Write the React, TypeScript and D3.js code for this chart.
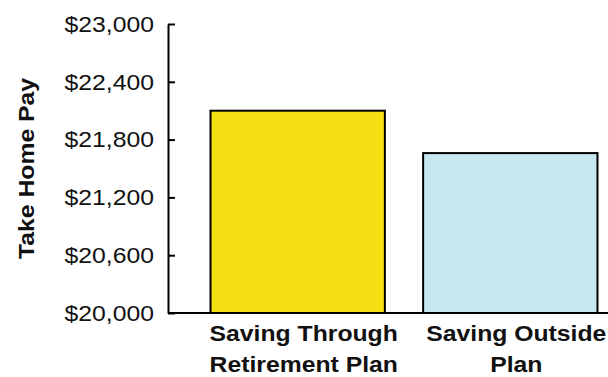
import React, { useRef, useEffect } from "react";
import * as d3 from "d3";

// chart data
const categories = [
  ["Saving Through", "Retirement Plan"],
  ["Saving Outside", "Plan"],
];
const takeHomePay = [22100, 21660];
const barColors = ["#f5e014", "#c6e9f1"];
const yTicks = [20000, 20600, 21200, 21800, 22400, 23000];

const WIDTH = 608;
const HEIGHT = 377;

const TakeHomeChart = () => {
  const ref = useRef<SVGSVGElement | null>(null);

  useEffect(() => {
    if (!ref.current) return;
    const svg = d3.select(ref.current);
    svg.selectAll("*").remove();

    const font = "'Liberation Sans', Arial, Helvetica, sans-serif";
    const fontSize = "22.5px";
    const stretch = "scale(1.1,1)"; // the source font is a bit wider than Arial
    const left = 168;
    const top = 24;
    const bottom = 313;

    const y = d3.scaleLinear().domain([20000, 23000]).range([bottom, top]);
    const x = d3
      .scaleBand<number>()
      .domain(d3.range(categories.length))
      .range([left, 640])
      .paddingInner(0.18)
      .paddingOuter(0.2);

    // bars
    svg
      .append("g")
      .selectAll("rect")
      .data(takeHomePay)
      .enter()
      .append("rect")
      .attr("x", (_d, i) => x(i)!)
      .attr("y", (d) => y(d))
      .attr("width", x.bandwidth())
      .attr("height", (d) => bottom - y(d))
      .attr("fill", (_d, i) => barColors[i])
      .attr("stroke", "#000")
      .attr("stroke-width", 2);

    // y axis, ticks pointing inward
    const yAxis = svg
      .append("g")
      .attr("transform", `translate(${left},0)`)
      .call(
        d3
          .axisLeft(y)
          .tickValues(yTicks)
          .tickSizeInner(-7)
          .tickSizeOuter(0)
          .tickFormat((d) => "$" + d3.format(",")(d as number))
      );
    yAxis.select(".domain").attr("stroke", "#000").attr("stroke-width", 2);
    yAxis.selectAll(".tick line").attr("stroke", "#000").attr("stroke-width", 2);
    yAxis
      .selectAll(".tick text")
      .attr("x", 0)
      .attr("transform", `translate(-14,0) ${stretch}`)
      .attr("fill", "#111")
      .style("font-family", font)
      .style("font-size", fontSize);

    // x axis line
    svg
      .append("line")
      .attr("x1", left)
      .attr("x2", x.range()[1])
      .attr("y1", bottom)
      .attr("y2", bottom)
      .attr("stroke", "#000")
      .attr("stroke-width", 2);

    // category labels
    const labels = svg
      .append("g")
      .selectAll("text")
      .data(categories)
      .enter()
      .append("text")
      .attr(
        "transform",
        (_d, i) => `translate(${x(i)! + x.bandwidth() / 2 + 6},341) ${stretch}`
      )
      .attr("text-anchor", "middle")
      .attr("fill", "#111")
      .style("font-family", font)
      .style("font-size", fontSize)
      .style("font-weight", "bold");
    labels
      .selectAll("tspan")
      .data((d) => d)
      .enter()
      .append("tspan")
      .attr("x", 0)
      .attr("y", (_d, j) => j * 31)
      .text((d) => d);

    // y title
    svg
      .append("text")
      .attr("transform", `translate(34,${(top + bottom) / 2}) rotate(-90) ${stretch}`)
      .attr("text-anchor", "middle")
      .attr("fill", "#111")
      .style("font-family", font)
      .style("font-size", fontSize)
      .style("font-weight", "bold")
      .text("Take Home Pay");
  }, []);

  return (
    <svg
      ref={ref}
      width={WIDTH}
      height={HEIGHT}
      viewBox={`0 0 ${WIDTH} ${HEIGHT}`}
      style={{ display: "block", background: "#fff" }}
    />
  );
};

export default function App() {
  return (
    <>
      <style>{`body{margin:0}`}</style>
      <TakeHomeChart />
    </>
  );
}
